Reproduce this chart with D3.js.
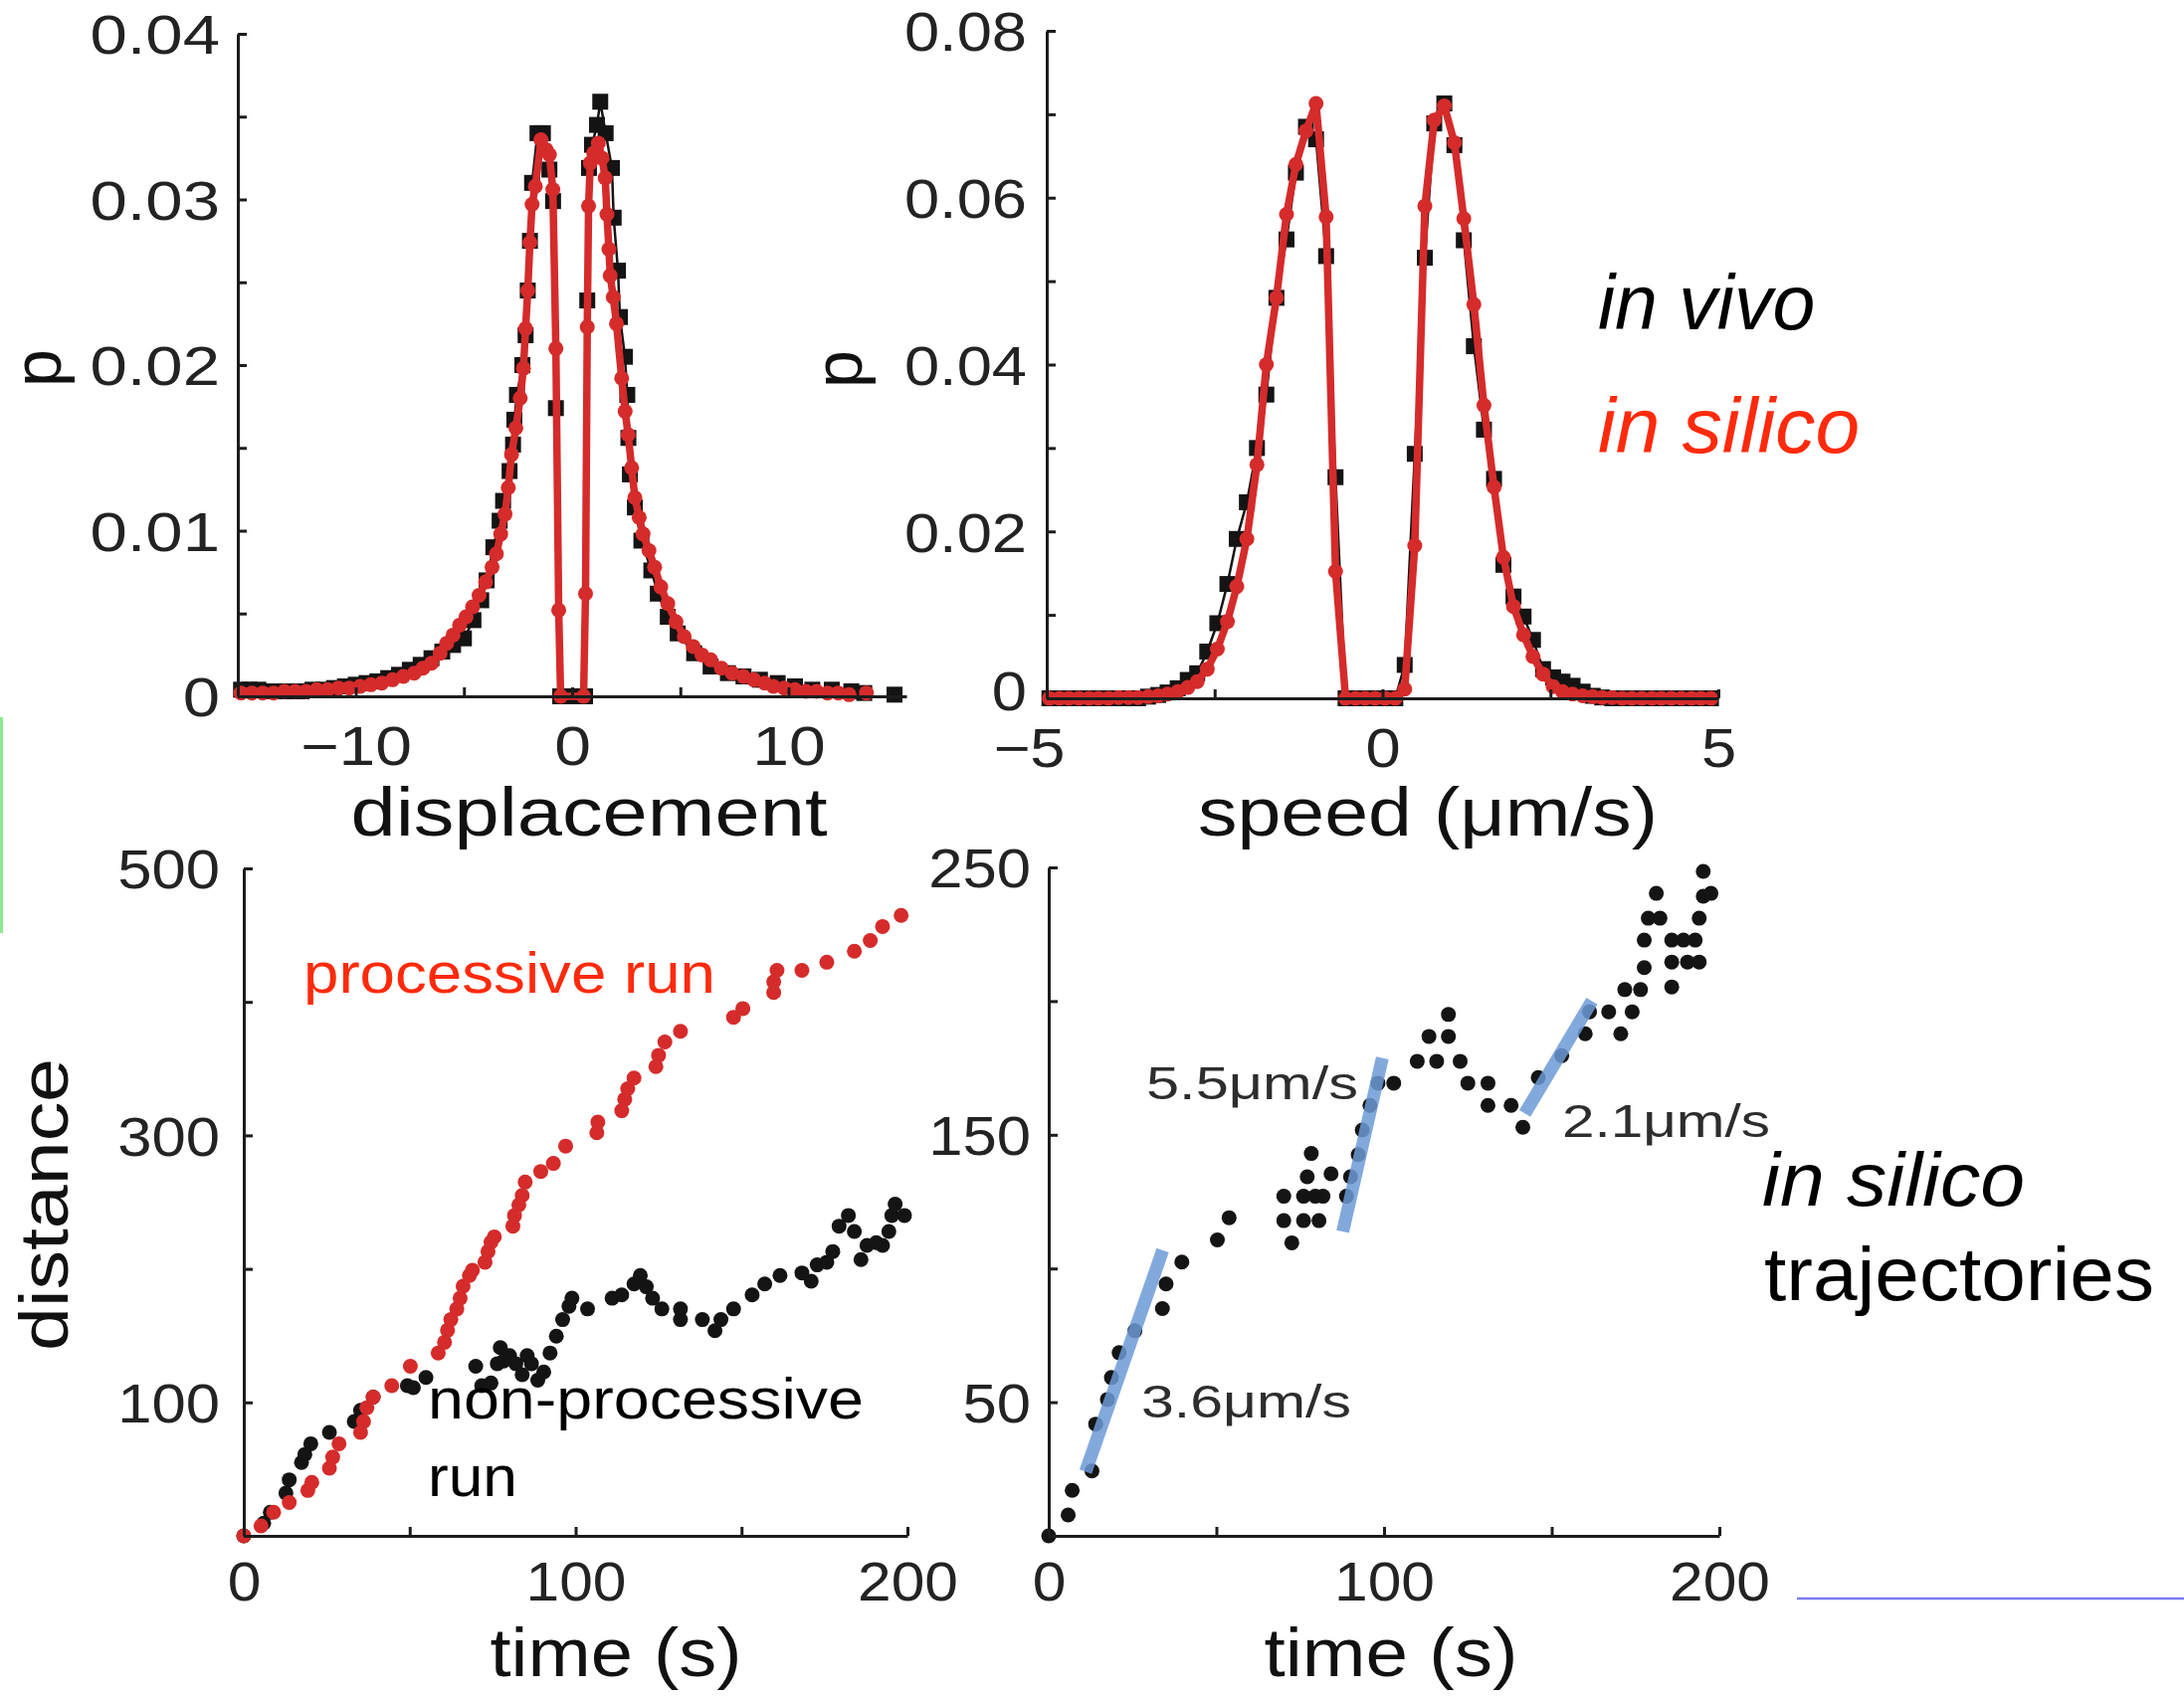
<!DOCTYPE html>
<html>
<head>
<meta charset="utf-8">
<script src="https://cdn.jsdelivr.net/npm/d3@7"></script>
<style>
  html, body { margin: 0; padding: 0; background: #fff; }
  svg { display: block; }
  text { font-family: "Liberation Sans", Arial, Helvetica, sans-serif; }
</style>
</head>
<body>
<svg id="fig" width="2195" height="1707"></svg>
<script>
// ---------------- displacement histogram (top left) ----------------
const dispVivoX = [-15.3, -14.9, -14.5, -14.0, -13.5, -13.0, -12.5, -12.0, -11.5, -11.0, -10.5, -10.0, -9.5, -9.0, -8.5, -8.0,
  -7.5, -7.0, -6.5, -6.0, -5.5, -5.0, -4.56, -4.2, -3.95, -3.64, -3.35, -3.19, -2.89, -2.73, -2.67, -2.55, -2.3, -2.15,
  -2.05, -1.95, -1.85, -1.6, -1.35, -1.05, -0.88, -0.75, -0.55, 0.0, 0.6, 0.7, 0.78, 0.92, 1.15, 1.3, 1.55, 1.84, 1.92,
  2.12, 2.21, 2.44, 2.55, 2.6, 2.67, 2.9, 3.2, 3.66, 3.96, 4.42, 4.88, 5.64, 6.4, 7.2, 7.92, 8.68, 9.5, 10.3, 11.1, 12.0,
  12.9, 13.5, 14.2, 14.9];
const dispVivoP = [0.0004, 0.0004, 0.0004, 0.0003, 0.0003, 0.0003, 0.0003, 0.0004, 0.0004, 0.0005, 0.0006, 0.0007, 0.0008,
  0.0009, 0.0011, 0.0013, 0.0016, 0.0019, 0.0023, 0.0027, 0.0031, 0.0035, 0.0046, 0.0058, 0.0070, 0.0090, 0.0106, 0.0118,
  0.0136, 0.0152, 0.0167, 0.0182, 0.0200, 0.0218, 0.0245, 0.0275, 0.0310, 0.0340, 0.0340, 0.0318, 0.0299, 0.0174, 0.0,
  0.0, 0.0, 0.0239, 0.0319, 0.0333, 0.0345, 0.0359, 0.0340, 0.0319, 0.0289, 0.0257, 0.0229, 0.0205, 0.0182, 0.0156,
  0.0134, 0.0114, 0.0094, 0.0076, 0.0062, 0.0048, 0.0038, 0.0026, 0.0018, 0.0014, 0.0012, 0.0010, 0.0008, 0.0006,
  0.0004, 0.0004, 0.0003, 0.0002, null, 0.0001];

const dispSilicoX = [-15.3, -14.8, -14.3, -13.8, -13.3, -12.8, -12.3, -11.8, -11.3, -10.8, -10.3, -9.8, -9.3, -8.8, -8.3,
  -7.8, -7.3, -6.9, -6.5, -6.1, -5.8, -5.5, -5.2, -4.9, -4.6, -4.3, -4.0, -3.7, -3.5, -3.3, -3.1, -2.95, -2.8, -2.6, -2.4,
  -2.25, -2.15, -2.05, -1.95, -1.85, -1.7, -1.44, -1.2, -1.05, -0.89, -0.75, -0.62, -0.53, 0.53, 0.62, 0.70, 0.76, 0.84,
  1.0, 1.21, 1.38, 1.53, 1.61, 1.7, 1.76, 1.9, 2.05, 2.29, 2.45, 2.59, 2.75, 2.9, 3.1, 3.28, 3.55, 3.81, 4.1, 4.42, 4.8,
  5.18, 5.6, 6.0, 6.4, 6.9, 7.4, 7.92, 8.4, 8.9, 9.3, 9.8, 10.3, 10.8, 11.3, 11.8, 12.3, 12.8, 13.2, 13.6];
const dispSilicoP = [0.0002, 0.0002, 0.0002, 0.0002, 0.0003, 0.0003, 0.0003, 0.0004, 0.0004, 0.0005, 0.0005, 0.0006,
  0.0007, 0.0008, 0.0010, 0.0012, 0.0014, 0.0017, 0.0020, 0.0026, 0.0032, 0.0037, 0.0043, 0.0048, 0.0054, 0.0061, 0.0069,
  0.0078, 0.0086, 0.0098, 0.0110, 0.0126, 0.0146, 0.0162, 0.0180, 0.0198, 0.0222, 0.0245, 0.0274, 0.0297, 0.0308, 0.0336,
  0.0330, 0.0327, 0.0306, 0.0210, 0.0052, 0.0, 0.0, 0.0062, 0.0223, 0.0296, 0.0322, 0.0328, 0.0334, 0.0325, 0.0313,
  0.0291, 0.0270, 0.0254, 0.0241, 0.0225, 0.0192, 0.0172, 0.0158, 0.0138, 0.0120, 0.0108, 0.0098, 0.0088, 0.0078, 0.0066,
  0.0056, 0.0045, 0.0036, 0.0030, 0.0025, 0.0022, 0.0017, 0.0014, 0.0012, 0.0010, 0.0008, 0.0006, 0.0005, 0.0004, 0.0003,
  0.0003, 0.0002, 0.0002, 0.0001, null, 0.0002];

// ---------------- speed histogram (top right) ----------------
const speedBins = [-4.96, -4.81, -4.67, -4.52, -4.37, -4.23, -4.08, -3.93, -3.78, -3.64, -3.49, -3.34, -3.20, -3.05, -2.90,
  -2.76, -2.61, -2.46, -2.31, -2.17, -2.02, -1.87, -1.73, -1.58, -1.43, -1.29, -1.14, -0.99, -0.84, -0.70, -0.55, -0.40,
  -0.26, -0.11, 0.04, 0.19, 0.33, 0.48, 0.63, 0.77, 0.92, 1.07, 1.21, 1.36, 1.51, 1.66, 1.80, 1.95, 2.10, 2.24, 2.39, 2.54,
  2.68, 2.83, 2.98, 3.13, 3.27, 3.42, 3.57, 3.71, 3.86, 4.01, 4.15, 4.30, 4.45, 4.60, 4.74, 4.89];
const speedVivoP = [0, 0, 0, 0, 0, 0, 0, 0, 0, 0, 0.0002, 0.0004, 0.0007, 0.0012, 0.0022, 0.0030, 0.0056, 0.0090, 0.0137,
  0.0191, 0.0235, 0.0300, 0.0364, 0.0480, 0.0550, 0.0630, 0.0685, 0.0670, 0.0530, 0.0265, 0, 0, 0, 0, 0, 0, 0.0040, 0.0293,
  0.0528, 0.0689, 0.0713, 0.0663, 0.0549, 0.0422, 0.0322, 0.0263, 0.0160, 0.0122, 0.0098, 0.0070, 0.0035, 0.0025, 0.0020,
  0.0015, 0.0008, 0.0003, 0.0001, 0, 0, 0, 0, 0, 0, 0, 0, 0, 0, 0];
const speedSilicoP = [0, 0, 0, 0, 0, 0, 0, 0.0001, 0.0001, 0.0001, 0.0002, 0.0003, 0.0005, 0.0008, 0.0013, 0.0020, 0.0035,
  0.0059, 0.0092, 0.0134, 0.0191, 0.0280, 0.0400, 0.0480, 0.0580, 0.0640, 0.0680, 0.0713, 0.0577, 0.0152, 0, 0, 0, 0, 0,
  0, 0.0011, 0.0183, 0.0590, 0.0693, 0.0710, 0.0666, 0.0575, 0.0472, 0.0351, 0.0253, 0.0169, 0.0110, 0.0076, 0.0050,
  0.0029, 0.0014, 0.0008, 0.0005, 0.0003, 0.0002, 0.0001, 0.0001, 0, 0, 0, 0, 0, 0, 0, 0, 0, 0];

// ---------------- example runs (bottom left) ----------------
const procT = [0, 5.2, 9, 13.7, 19.3, 20.5, 25.8, 26.8, 28.7, 35.2, 36.1, 37.1, 39, 44.6, 50.2, 58.6, 60.5, 61.4, 62.4, 64.2,
  65.2, 66.1, 68, 68.9, 72.7, 73.6, 74.5, 75.5, 81.1, 81.6, 82.9, 83.9, 84.8, 89.5, 93.3, 97, 106.4, 106.7, 113.9, 114.8,
  115.7, 117.6, 124.2, 125, 126.9, 131.6, 147.6, 150.4, 159.7, 159.7, 160.7, 168.2, 175.7, 184, 188.8, 192.5, 198.1];
const procD = [0, 7.4, 17.7, 25, 34, 40, 50.7, 59, 69, 77.5, 85.7, 96, 104, 112.5, 127, 137, 145, 154, 162, 170, 178, 187,
  195, 199, 205, 213, 220, 224, 232, 240, 248, 255, 265, 273, 279, 292, 302, 310, 318.5, 327, 335, 343, 351.5, 360, 370,
  378, 388.5, 395, 407, 415, 423.6, 423.6, 429.7, 438, 446, 456.5, 464.8];
const nonprocT = [0, 6, 8, 12.7, 13.7, 17.4, 18.4, 20.2, 25.8, 33.3, 35.2, 39, 49.3, 51.1, 54.9, 69.9, 71.7, 74.5, 76.4,
  77.3, 78.3, 80.1, 82, 83.9, 85.4, 86.7, 88.6, 90.4, 92.3, 94.2, 96.1, 98, 98.9, 103.6, 111, 113.9, 117.6, 119.5, 121.3,
  123.2, 126, 131.6, 131.6, 138.2, 142, 143.8, 147.6, 153.2, 157, 161.6, 168.2, 171, 172.8, 175.7, 177.5, 179.4, 182.2,
  184, 186, 187.8, 190.6, 192.5, 194.4, 195.3, 196.3, 199.1];
const nonprocD = [0, 9.5, 17.7, 32, 42, 55, 61, 69, 77.5, 85.7, 94, 104, 112.5, 111, 118.7, 127, 112.5, 114.5, 129, 141,
  131, 135, 129, 120.7, 135, 129, 116.6, 122.8, 137, 149.6, 162, 172, 178, 170, 178, 180.5, 188.7, 195, 186.6, 178, 170,
  170, 162, 162, 153.7, 162, 170, 180.5, 188.7, 195, 197, 190.8, 203, 205, 213, 232, 240, 228, 207, 217.6, 219.6, 217.6,
  228, 240, 248.5, 240];

// ---------------- simulated trajectory (bottom right) ----------------
const trajT = [0, 5.8, 7, 12.9, 14, 17.5, 18.7, 21, 25.7, 33.9, 35, 39.7, 50.3, 53.8, 70.1, 70.1, 72.5, 76, 76, 77.1, 78.3,
  79.5, 80.6, 81.8, 84.2, 88.8, 90, 92.3, 93.5, 95.8, 98.2, 102.9, 109.9, 113.4, 115.7, 119.2, 119.2, 122.7, 125, 131, 131,
  137.9, 141.4, 146, 153, 160, 161.3, 167, 170.6, 171.8, 174, 176.5, 177.6, 177.6, 178.8, 181.2, 182.3, 185.8, 185.8,
  185.8, 189.3, 190.5, 192.8, 194, 194, 195.2, 195.2, 197.5];
const trajD = [0, 7.8, 17, 24.3, 41.8, 51, 59.2, 68.5, 76.7, 85, 94.2, 102.4, 110.7, 119, 127, 117.9, 109.6, 127, 117.9,
  134.3, 143, 127, 117.9, 127, 135.4, 127, 134.3, 142.6, 151.8, 161, 169.3, 169.3, 177.5, 186.8, 177.5, 195, 186.8, 177.5,
  169.3, 169.3, 161, 161, 152.8, 171.4, 179.6, 187.8, 196, 196, 187.8, 204.3, 196, 204.3, 212.5, 222.8, 231, 240.3, 231,
  222.8, 214.6, 205.3, 222.8, 214.6, 222.8, 214.6, 231, 239.2, 248.5, 240.3];

// fitted runs: start time, end time, start distance, fitted speed
const fitStartT = [11, 87.7, 142];
const fitEndT = [34, 99.5, 162];
const fitStartD = [24, 113.8, 158];
const fitSpeed = [3.6, 5.5, 2.1];
const fitLabel = ["3.6μm/s", "5.5μm/s", "2.1μm/s"];

// ---------------- drawing ----------------
const svg = d3.select("#fig");
const RED = "#d52b2b", BLACK = "#141414", TEXT_RED = "#ff2a0c", AXIS = "#1c1c1c";
const TICK = 9;

const zip = (xs, ys) => xs.map((x, i) => ({ x, y: ys[i] }));

function text(x, y, s, o) {
  const t = svg.append("text").attr("x", x).attr("y", y).text(s)
    .attr("font-size", o.fs).attr("fill", o.fill || "#111")
    .attr("text-anchor", o.anchor || "start");
  if (o.italic) t.attr("font-style", "italic");
  if (o.family) t.attr("font-family", o.family);
  if (o.rotate) t.attr("transform", `rotate(-90,${x},${y})`);
  if (o.width) t.attr("textLength", o.width).attr("lengthAdjust", "spacingAndGlyphs");
  return t;
}

function fmtNum(d) { return d < 0 ? "\u2212" + Math.abs(d) : String(d); }

function axes(p) {
  const [y0] = p.y.range();
  const [x0] = p.x.range();
  const gx = svg.append("g").attr("transform", `translate(0,${y0})`)
    .call(d3.axisBottom(p.x).tickValues(p.xTicks).tickSizeInner(-TICK).tickSizeOuter(0)
      .tickPadding(p.xPad).tickFormat(d => p.xLabels.includes(d) ? fmtNum(d) : ""));
  const gy = svg.append("g").attr("transform", `translate(${x0},0)`)
    .call(d3.axisLeft(p.y).tickValues(p.yTicks).tickSizeInner(-TICK).tickSizeOuter(0)
      .tickPadding(p.yPad).tickFormat(d => p.yLabels.includes(d) ? p.yFmt(d) : ""));
  [gx, gy].forEach(g => {
    g.attr("font-family", null).attr("font-size", null);
    g.select(".domain").attr("stroke", AXIS).attr("stroke-width", 3);
    g.selectAll(".tick line").attr("stroke", AXIS).attr("stroke-width", 3);
    g.selectAll(".tick text").attr("font-size", 55).attr("fill", "#232323");
  });
  gy.selectAll(".tick text").attr("dy", "0.36em");
  [[gx, p.xStretch], [gy, p.yStretch]].forEach(([g, f]) => {
    g.selectAll(".tick text").each(function () {
      const L = this.getComputedTextLength();
      if (L > 0) { this.setAttribute("textLength", L * f); this.setAttribute("lengthAdjust", "spacingAndGlyphs"); }
    });
  });
  return { gx, gy };
}

function histogram(p, xs, ys, color, shape) {
  const pts = zip(xs, ys);
  const line = d3.line().defined(d => d.y !== null).x(d => p.x(d.x)).y(d => p.y(d.y));
  const g = svg.append("g");
  g.append("path").datum(pts).attr("d", line).attr("fill", "none")
    .attr("stroke", color).attr("stroke-width", shape === "square" ? 2.5 : 7.5)
    .attr("stroke-linejoin", "round");
  const vis = pts.filter(d => d.y !== null);
  if (shape === "square") {
    const s = 16;
    g.selectAll("rect").data(vis).join("rect")
      .attr("x", d => p.x(d.x) - s / 2).attr("y", d => p.y(d.y) - s / 2)
      .attr("width", s).attr("height", s).attr("fill", color);
  } else {
    g.selectAll("circle").data(vis).join("circle")
      .attr("cx", d => p.x(d.x)).attr("cy", d => p.y(d.y)).attr("r", 7.5).attr("fill", color);
  }
}

function dots(p, ts, ds, color) {
  svg.append("g").selectAll("circle").data(zip(ts, ds)).join("circle")
    .attr("cx", d => p.x(d.x)).attr("cy", d => p.y(d.y)).attr("r", 7.5).attr("fill", color);
}

// panel A: displacement
const pA = {
  x: d3.scaleLinear().domain([-15.45, 15.45]).range([239, 911]),
  y: d3.scaleLinear().domain([0, 0.04]).range([700, 34]),
  xTicks: [-10, -5, 0, 5, 10], xLabels: [-10, 0, 10],
  yTicks: [0, 0.005, 0.01, 0.015, 0.02, 0.025, 0.03, 0.035, 0.04], yLabels: [0, 0.01, 0.02, 0.03, 0.04],
  yFmt: d => d === 0 ? "0" : d3.format(".2f")(d), xPad: 30, yPad: 18, xStretch: 1.2, yStretch: 1.22
};
histogram(pA, dispVivoX, dispVivoP, BLACK, "square");
histogram(pA, dispSilicoX, dispSilicoP, RED, "circle");
axes(pA);

// panel B: speed
const pB = {
  x: d3.scaleLinear().domain([-5, 5]).range([1052, 1727]),
  y: d3.scaleLinear().domain([0, 0.08]).range([702, 31]),
  xTicks: [-5, -2.5, 0, 2.5, 5], xLabels: [-5, 0, 5],
  yTicks: [0, 0.01, 0.02, 0.03, 0.04, 0.05, 0.06, 0.07, 0.08], yLabels: [0, 0.02, 0.04, 0.06, 0.08],
  yFmt: d => d === 0 ? "0" : d3.format(".2f")(d), xPad: 30, yPad: 20, xStretch: 1.15, yStretch: 1.15
};
histogram(pB, speedBins, speedVivoP, BLACK, "square");
histogram(pB, speedBins, speedSilicoP, RED, "circle");
const axB = axes(pB);
axB.gx.selectAll(".tick text").filter(d => d === -5).attr("dx", -18);
axB.gy.selectAll(".tick text").filter(d => d === 0).attr("dy", "0.2em");

// panel C: example runs
const pC = {
  x: d3.scaleLinear().domain([0, 200]).range([245, 912]),
  y: d3.scaleLinear().domain([0, 500]).range([1544, 873]),
  xTicks: [0, 50, 100, 150, 200], xLabels: [0, 100, 200],
  yTicks: [0, 100, 200, 300, 400, 500], yLabels: [100, 300, 500],
  yFmt: d => String(d), xPad: 26, yPad: 24, xStretch: 1.1, yStretch: 1.12
};
dots(pC, nonprocT, nonprocD, BLACK);
dots(pC, procT, procD, RED);
axes(pC);

// panel D: simulated trajectory with fitted runs
const pD = {
  x: d3.scaleLinear().domain([0, 200]).range([1054, 1728]),
  y: d3.scaleLinear().domain([0, 250]).range([1544, 872]),
  xTicks: [0, 50, 100, 150, 200], xLabels: [0, 100, 200],
  yTicks: [0, 50, 100, 150, 200, 250], yLabels: [50, 150, 250],
  yFmt: d => String(d), xPad: 26, yPad: 18, xStretch: 1.1, yStretch: 1.12
};
dots(pD, trajT, trajD, BLACK);
svg.append("g").selectAll("line").data(fitSpeed).join("line")
  .attr("x1", (v, i) => pD.x(fitStartT[i]))
  .attr("y1", (v, i) => pD.y(fitStartD[i]))
  .attr("x2", (v, i) => pD.x(fitEndT[i]))
  .attr("y2", (v, i) => pD.y(fitStartD[i] + v * (fitEndT[i] - fitStartT[i])))
  .attr("stroke", "#6c9ad6").attr("stroke-width", 13).attr("stroke-opacity", 0.85);
axes(pD);

// fitted speed annotations
const narrow = '"Liberation Sans Narrow", "DejaVu Sans Condensed", "Liberation Sans", sans-serif';
text(1147, 1425, fitLabel[0], { fs: 46, fill: "#2d2d2d", family: narrow, width: 211 });
text(1152, 1105, fitLabel[1], { fs: 46, fill: "#2d2d2d", family: narrow, width: 213 });
text(1570, 1143, fitLabel[2], { fs: 46, fill: "#2d2d2d", family: narrow, width: 209 });

// axis titles
text(61, 370, "p", { fs: 68, anchor: "middle", rotate: true });
text(866, 371, "p", { fs: 68, anchor: "middle", rotate: true });
text(592, 840, "displacement", { fs: 68, anchor: "middle", width: 479 });
text(1435, 840, "speed (\u03bcm/s)", { fs: 68, anchor: "middle", width: 462 });
text(68, 1211, "distance", { fs: 68, anchor: "middle", rotate: true, width: 294 });
text(619, 1685, "time (s)", { fs: 68, anchor: "middle", width: 253 });
text(1398, 1685, "time (s)", { fs: 68, anchor: "middle", width: 255 });

// legends and annotations
text(1606, 331, "in vivo", { fs: 77, italic: true, fill: "#000" });
text(1606, 455, "in silico", { fs: 77, italic: true, fill: TEXT_RED, width: 263 });
text(305, 998, "processive run", { fs: 58, fill: TEXT_RED, width: 414 });
text(430, 1426, "non-processive", { fs: 58, fill: "#000", width: 438 });
text(430, 1504, "run", { fs: 58, fill: "#000", width: 90 });
text(1771, 1212, "in silico", { fs: 76, italic: true, fill: "#000", width: 264 });
text(1773, 1307, "trajectories", { fs: 76, fill: "#000", width: 392 });

// edge rules
svg.append("line").attr("x1", 1.5).attr("x2", 1.5).attr("y1", 721).attr("y2", 938)
  .attr("stroke", "#8ee88e").attr("stroke-width", 3);
svg.append("line").attr("x1", 1806).attr("x2", 2195).attr("y1", 1607).attr("y2", 1607)
  .attr("stroke", "#7b7bf2").attr("stroke-width", 2.5);
</script>
</body>
</html>
